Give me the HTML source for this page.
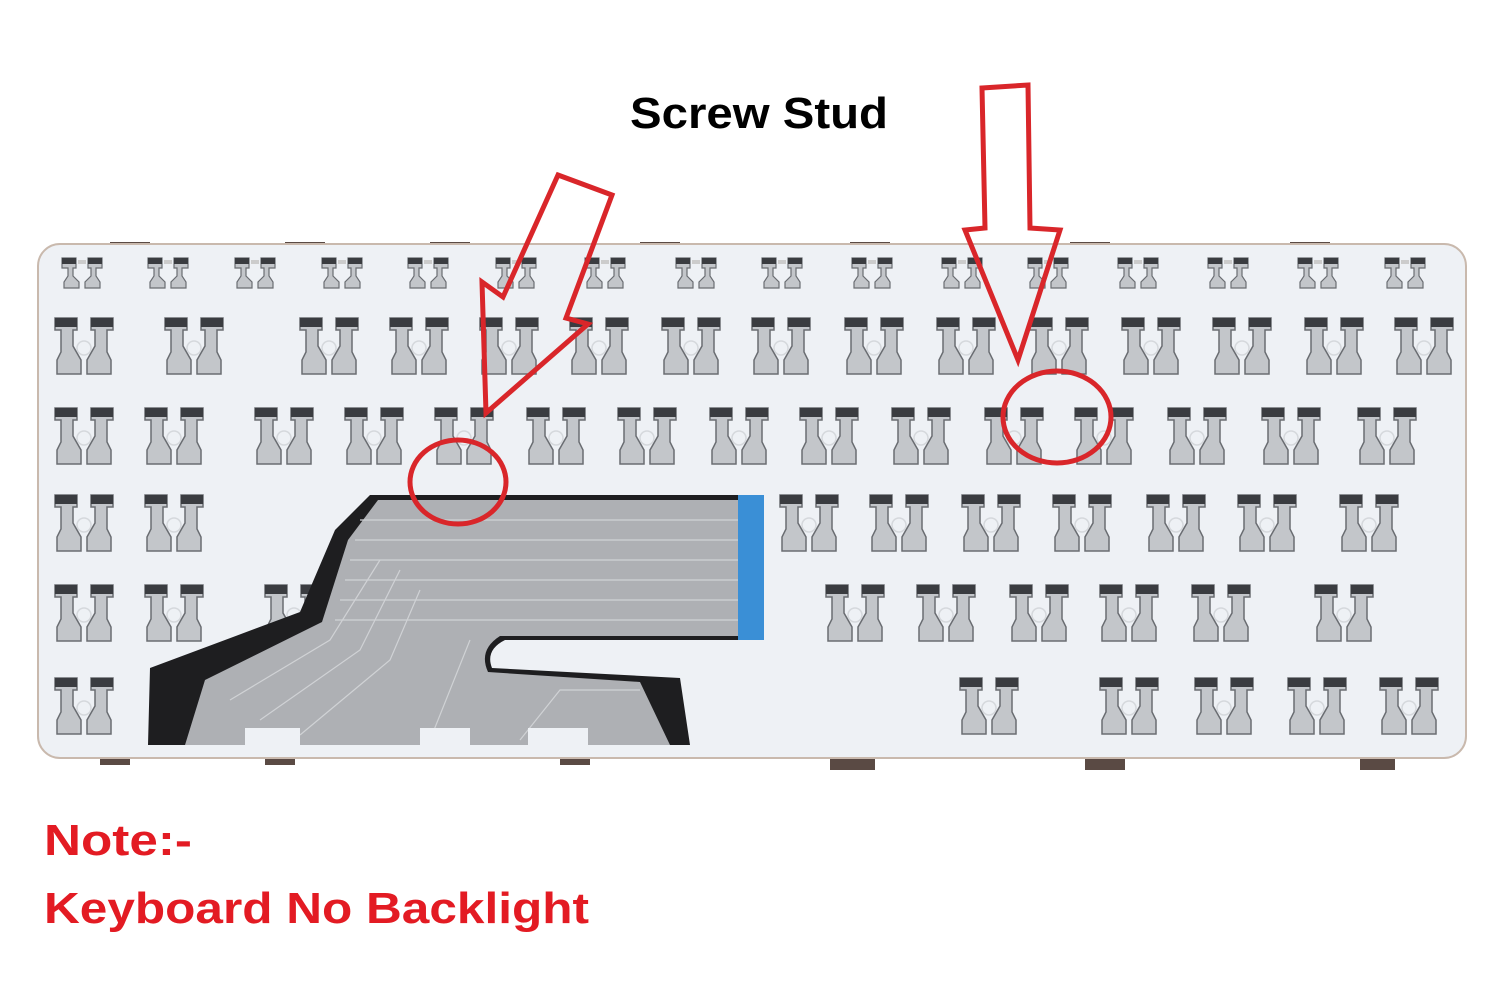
<!DOCTYPE html>
<html><head><meta charset="utf-8"><style>html,body{margin:0;padding:0;background:#fff}svg{display:block}</style></head>
<body>
<svg width="1500" height="995" viewBox="0 0 1500 995" xmlns="http://www.w3.org/2000/svg">
<defs>
<g id="k">
  <path d="M0,0 h22 v12 h-4 v16 l8,14 v14 h-24 v-14 l4,-8 v-22 h-6z" fill="#c3c6ca" stroke="#6a6d72" stroke-width="1.5"/>
  <rect x="0" y="0" width="22" height="9" fill="#3a3c40"/>
  <path d="M58,0 h-22 v12 h4 v16 l-8,14 v14 h24 v-14 l-4,-8 v-22 h6z" fill="#c3c6ca" stroke="#6a6d72" stroke-width="1.5"/>
  <rect x="36" y="0" width="22" height="9" fill="#3a3c40"/>
  <circle cx="29" cy="30" r="7" fill="none" stroke="#d5d8dc" stroke-width="1.5"/>
</g>
<g id="s">
  <path d="M0,0 h14 v10 h-3 v8 l6,6 v6 h-15 v-6 l4,-6 v-8 h-6z" fill="#c3c6ca" stroke="#6a6d72" stroke-width="1.2"/>
  <rect x="0" y="0" width="14" height="6" fill="#3a3c40"/>
  <path d="M40,0 h-14 v10 h3 v8 l-6,6 v6 h15 v-6 l-4,-6 v-8 h6z" fill="#c3c6ca" stroke="#6a6d72" stroke-width="1.2"/>
  <rect x="26" y="0" width="14" height="6" fill="#3a3c40"/>
  <rect x="16" y="2" width="8" height="4" fill="#ccc"/>
</g>
</defs>
<rect width="1500" height="995" fill="#fff"/>
<g fill="#5a4a44">
<rect x="110" y="242" width="40" height="6"/><rect x="285" y="242" width="40" height="6"/><rect x="430" y="242" width="40" height="6"/><rect x="640" y="242" width="40" height="6"/><rect x="850" y="242" width="40" height="6"/><rect x="1070" y="242" width="40" height="6"/><rect x="1290" y="242" width="40" height="6"/>
<rect x="100" y="755" width="30" height="10"/><rect x="265" y="755" width="30" height="10"/><rect x="560" y="755" width="30" height="10"/><rect x="830" y="755" width="45" height="15"/><rect x="1085" y="755" width="40" height="15"/><rect x="1360" y="755" width="35" height="15"/>
</g>
<rect x="38" y="244" width="1428" height="514" rx="22" fill="#eef1f5" stroke="#c9b9ad" stroke-width="2"/>
<g>
<use href="#s" x="62" y="258"/><use href="#s" x="148" y="258"/><use href="#s" x="235" y="258"/><use href="#s" x="322" y="258"/><use href="#s" x="408" y="258"/><use href="#s" x="496" y="258"/><use href="#s" x="585" y="258"/><use href="#s" x="676" y="258"/><use href="#s" x="762" y="258"/><use href="#s" x="852" y="258"/><use href="#s" x="942" y="258"/><use href="#s" x="1028" y="258"/><use href="#s" x="1118" y="258"/><use href="#s" x="1208" y="258"/><use href="#s" x="1298" y="258"/><use href="#s" x="1385" y="258"/>
</g>
<g>
<use href="#k" x="55" y="318"/><use href="#k" x="165" y="318"/><use href="#k" x="300" y="318"/><use href="#k" x="390" y="318"/><use href="#k" x="480" y="318"/><use href="#k" x="570" y="318"/><use href="#k" x="662" y="318"/><use href="#k" x="752" y="318"/><use href="#k" x="845" y="318"/><use href="#k" x="937" y="318"/><use href="#k" x="1030" y="318"/><use href="#k" x="1122" y="318"/><use href="#k" x="1213" y="318"/><use href="#k" x="1305" y="318"/><use href="#k" x="1395" y="318"/>
<use href="#k" x="55" y="408"/><use href="#k" x="145" y="408"/><use href="#k" x="255" y="408"/><use href="#k" x="345" y="408"/><use href="#k" x="435" y="408"/><use href="#k" x="527" y="408"/><use href="#k" x="618" y="408"/><use href="#k" x="710" y="408"/><use href="#k" x="800" y="408"/><use href="#k" x="892" y="408"/><use href="#k" x="985" y="408"/><use href="#k" x="1075" y="408"/><use href="#k" x="1168" y="408"/><use href="#k" x="1262" y="408"/><use href="#k" x="1358" y="408"/>
<use href="#k" x="55" y="495"/><use href="#k" x="145" y="495"/><use href="#k" x="780" y="495"/><use href="#k" x="870" y="495"/><use href="#k" x="962" y="495"/><use href="#k" x="1053" y="495"/><use href="#k" x="1147" y="495"/><use href="#k" x="1238" y="495"/><use href="#k" x="1340" y="495"/>
<use href="#k" x="55" y="585"/><use href="#k" x="145" y="585"/><use href="#k" x="265" y="585"/><use href="#k" x="826" y="585"/><use href="#k" x="917" y="585"/><use href="#k" x="1010" y="585"/><use href="#k" x="1100" y="585"/><use href="#k" x="1192" y="585"/><use href="#k" x="1315" y="585"/>
<use href="#k" x="55" y="678"/><use href="#k" x="960" y="678"/><use href="#k" x="1100" y="678"/><use href="#k" x="1195" y="678"/><use href="#k" x="1288" y="678"/><use href="#k" x="1380" y="678"/>
</g>
<path d="M148,745 L150,668 L300,612 L335,530 L370,495 L740,495 L740,640 L505,640 Q485,650 492,668 L680,678 L690,745 Z" fill="#1e1e20"/>
<path d="M185,745 L205,680 L322,622 L348,540 L378,500 L740,500 L740,636 L500,636 Q478,650 488,672 L640,682 L670,745 Z" fill="#aeb0b4"/>
<g stroke="#d0d2d5" stroke-width="1.2" fill="none">
<path d="M360,520 H738"/><path d="M355,540 H738"/><path d="M350,560 H738"/><path d="M345,580 H738"/><path d="M340,600 H738"/><path d="M335,620 H738"/>
<path d="M230,700 L330,640 L380,560"/><path d="M260,720 L360,650 L400,570"/><path d="M300,735 L390,660 L420,590"/><path d="M430,740 L450,690 L470,640"/><path d="M520,740 L560,690 L640,690"/>
</g>
<rect x="738" y="495" width="26" height="145" fill="#3a8fd6"/>
<rect x="245" y="728" width="55" height="22" fill="#eef1f5"/><rect x="420" y="728" width="50" height="22" fill="#eef1f5"/><rect x="528" y="728" width="60" height="22" fill="#eef1f5"/>
<g fill="none" stroke="#d9262a" stroke-width="5" stroke-linejoin="miter">
<path d="M558,175 L612,195 L566,318 L588,324 L486,413 L482,282 L503,297 Z"/>
<path d="M982,88 L1028,85 L1030,228 L1060,230 L1018,360 L965,230 L985,228 Z"/>
<ellipse cx="458" cy="482" rx="48" ry="42"/>
<ellipse cx="1057" cy="417" rx="54" ry="46"/>
</g>
<text x="630" y="128" font-family="Liberation Sans, sans-serif" font-weight="bold" font-size="44" fill="#000" textLength="258" lengthAdjust="spacingAndGlyphs">Screw Stud</text>
<text x="44" y="855" font-family="Liberation Sans, sans-serif" font-weight="bold" font-size="44" fill="#e31b23" textLength="148" lengthAdjust="spacingAndGlyphs">Note:-</text>
<text x="44" y="923" font-family="Liberation Sans, sans-serif" font-weight="bold" font-size="44" fill="#e31b23" textLength="545" lengthAdjust="spacingAndGlyphs">Keyboard No Backlight</text>
</svg>
</body></html>
